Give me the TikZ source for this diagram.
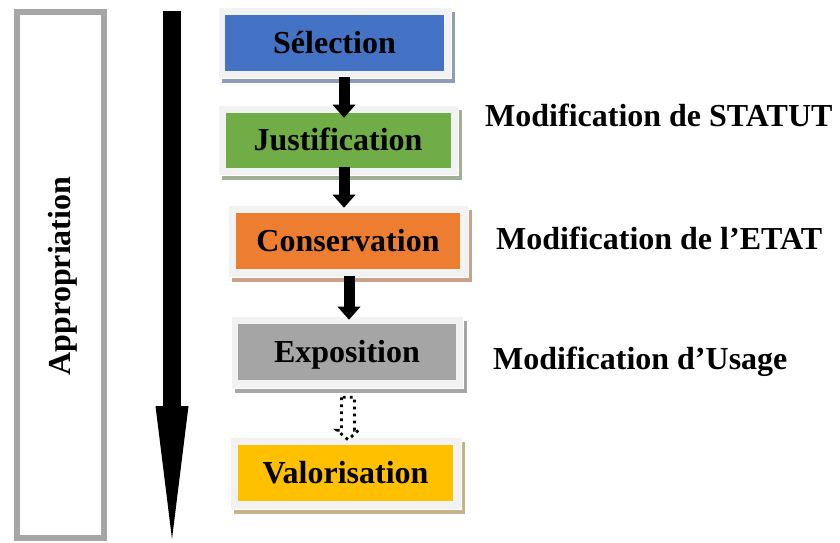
\documentclass[tikz,border=0pt]{standalone}
\usepackage{fontspec}
\setmainfont{Liberation Serif}
\usetikzlibrary{arrows.meta,calc,shadows}
\definecolor{selblue}{HTML}{4472C4}
\definecolor{jusgreen}{HTML}{70AD47}
\definecolor{conorange}{HTML}{ED7D31}
\definecolor{expgray}{HTML}{A5A5A5}
\definecolor{valyellow}{HTML}{FFC000}
\definecolor{framegray}{HTML}{F2F2F2}
\definecolor{shblue}{RGB}{143,156,184}
\definecolor{shgreen}{RGB}{160,176,146}
\definecolor{shorange}{RGB}{201,162,136}
\definecolor{shgray}{RGB}{166,166,166}
\definecolor{shyellow}{RGB}{196,180,138}
\definecolor{rectgray}{HTML}{A6A6A6}
\begin{document}
\begin{tikzpicture}[x=1pt,y=-1pt]
\tikzset{
  boxframe/.style={fill=framegray, draw=white, line width=0.6pt, inner sep=0pt,
    general shadow={fill=#1, shadow xshift=4pt, shadow yshift=-5pt}},
  boxfill/.style={fill=#1, inner sep=0pt, text height=21.2pt, text depth=0pt,
    font=\fontsize{32}{38}\selectfont\bfseries},
  sidetext/.style={anchor=base west, inner sep=0pt, font=\fontsize{32}{38}\selectfont\bfseries},
  blockarrow/.style={line width=11pt, -{Triangle[width=23pt,length=13pt,line width=0pt]}},
  bigarrow/.style={line width=18pt, -{Triangle[width=33pt,length=133pt,line width=0pt]}},
  dotarrow/.style={fill=white, draw=black, line width=2.8pt, dash pattern=on 2.8pt off 4.2pt},
}
\useasboundingbox (0,0) rectangle (840,542);

% left rectangle with label
\node[draw=rectgray, line width=6pt, inner sep=0pt, minimum width=87pt, minimum height=526pt] (appbox) at (60.5,275) {};
\node[rotate=90, inner sep=0pt, text height=21.2pt, text depth=0pt,
      font=\fontsize{32}{38}\selectfont\bfseries] (applbl) at (59.5,276) {Appropriation};

% big arrow
\coordinate (bigtop) at (172,11);
\coordinate (bigtip) at (172,539);
\draw[bigarrow] (bigtop) -- (bigtip);

% boxes
\node[boxframe=shblue, minimum width=233pt, minimum height=71pt] (sel) at (334.5,42.5) {};
\node[boxfill=selblue, minimum width=219pt, minimum height=56pt] (seltxt) at (sel.center) {Sélection};

\node[boxframe=shgreen, minimum width=240pt, minimum height=70pt] (jus) at (338,140) {};
\node[boxfill=jusgreen, minimum width=225pt, minimum height=55pt] (justxt) at (jus.center) {Justification};

\node[boxframe=shorange, minimum width=240pt, minimum height=72pt] (con) at (348,241) {};
\node[boxfill=conorange, minimum width=224pt, minimum height=56pt] (contxt) at (con.center) {Conservation};

\node[boxframe=shgray, minimum width=232pt, minimum height=72pt] (exp) at (347,352) {};
\node[boxfill=expgray, minimum width=218pt, minimum height=56pt] (exptxt) at (exp.center) {Exposition};

\node[boxframe=shyellow, minimum width=231pt, minimum height=72pt] (val) at (345.5,473) {};
\node[boxfill=valyellow, minimum width=215pt, minimum height=56pt] (valtxt) at (val.center) {Valorisation};

% connectors
\draw[blockarrow] ($(sel.south)+(9.5,-1)$) -- ($(jus.north)+(6,13)$);
\draw[blockarrow] ($(jus.south)+(6,-8)$) -- ($(con.north)+(-4,3)$);
\draw[blockarrow] ($(con.south)+(1,-1)$) -- ($(exp.north)+(2,4)$);
\draw[dotarrow] ($(exp.south)+(-5.5,9)$) -- ++(0,33) -- ++(-4.5,0)
   -- ($(val.north)+(2.5,3)$) -- ($(exp.south)+(11.5,42)$) -- ++(-4,0) -- ++(0,-33) -- cycle;

% side labels
\node[sidetext] (t1) at (485,126) {Modification de STATUT};
\node[sidetext] (t2) at (496,249) {Modification de l’ETAT};
\node[sidetext] (t3) at (493,369) {Modification d’Usage};
\end{tikzpicture}
\end{document}
